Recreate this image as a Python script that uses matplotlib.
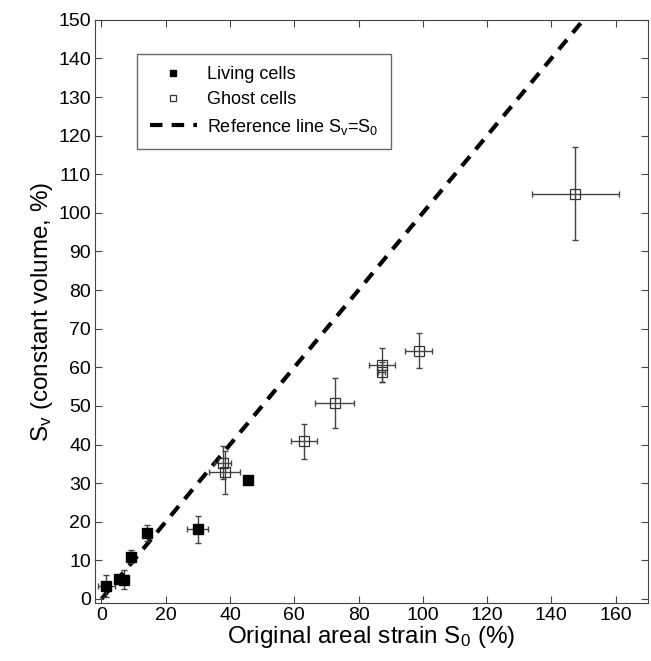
import numpy as np
import matplotlib.pyplot as plt

plt.rcParams['font.family'] = ['Liberation Sans', 'DejaVu Sans']
plt.rcParams['mathtext.default'] = 'regular'

# Living cells (filled squares)
living_x = [1.5, 5.5, 7.0, 9.2, 14.1, 30.0, 45.5]
living_y = [3.3, 5.3, 5.0, 11.0, 17.1, 18.0, 30.8]
living_xerr = [2.6, 1.0, 1.0, 0.8, 1.0, 3.3, 0.8]
living_yerr = [2.8, 1.0, 2.5, 1.8, 2.0, 3.6, 1.0]

# Ghost cells (open squares)
ghost_x = [37.7, 38.3, 63.0, 72.6, 87.2, 87.2, 98.8, 147.5]
ghost_y = [35.3, 32.8, 40.8, 50.8, 60.7, 58.8, 64.3, 105.0]
ghost_xerr = [2.6, 4.9, 4.1, 6.1, 4.1, 1.0, 4.2, 13.5]
ghost_yerr = [4.3, 5.6, 4.6, 6.5, 4.4, 2.6, 4.5, 12.0]

# reference line Sv = S0
ref_x = [0, 150]
ref_y = [0, 150]

fig = plt.figure(figsize=(6.51, 6.61), dpi=100)
ax = fig.add_axes([0.146, 0.088, 0.849, 0.882])

err_col = '#444444'
ax.errorbar(living_x, living_y, xerr=living_xerr, yerr=living_yerr, fmt='none',
            ecolor=err_col, elinewidth=1, capsize=2, capthick=1, zorder=2)
ax.plot(living_x, living_y, 's', color='black', markersize=6.5, zorder=3, label='Living cells')

ax.errorbar(ghost_x, ghost_y, xerr=ghost_xerr, yerr=ghost_yerr, fmt='none',
            ecolor=err_col, elinewidth=1, capsize=2, capthick=1, zorder=2)
ax.plot(ghost_x, ghost_y, 's', markerfacecolor='none', markeredgecolor='#333333',
        markeredgewidth=0.9, markersize=6.5, zorder=3, label='Ghost cells')

ax.plot(ref_x, ref_y, color='black', linestyle=(0, (3, 2.2)), linewidth=3,
        zorder=1, label='Reference line S$_v$=S$_0$')

ax.set_xlim(-2, 170)
ax.set_ylim(-1, 150)
ax.set_xticks(np.arange(0, 161, 20))
ax.set_yticks(np.arange(0, 151, 10))
ax.tick_params(direction='in', top=True, right=True, labelsize=14, length=5,
               color='#444444', pad=3)
for s in ax.spines.values():
    s.set_color('#444444')

ax.set_xlabel('Original areal strain S$_0$ (%)', fontsize=17.5, labelpad=0)
ax.set_ylabel('S$_v$ (constant volume, %)', fontsize=17.5, labelpad=2)

leg = ax.legend(loc='upper left', bbox_to_anchor=(0.076, 0.942), borderaxespad=0,
                fontsize=13, fancybox=False, edgecolor='#444444', handlelength=2.6,
                borderpad=0.7, labelspacing=0.45, markerscale=0.75, handletextpad=0.6)
leg.get_frame().set_linewidth(1)

fig.savefig('out.png', dpi=100)
